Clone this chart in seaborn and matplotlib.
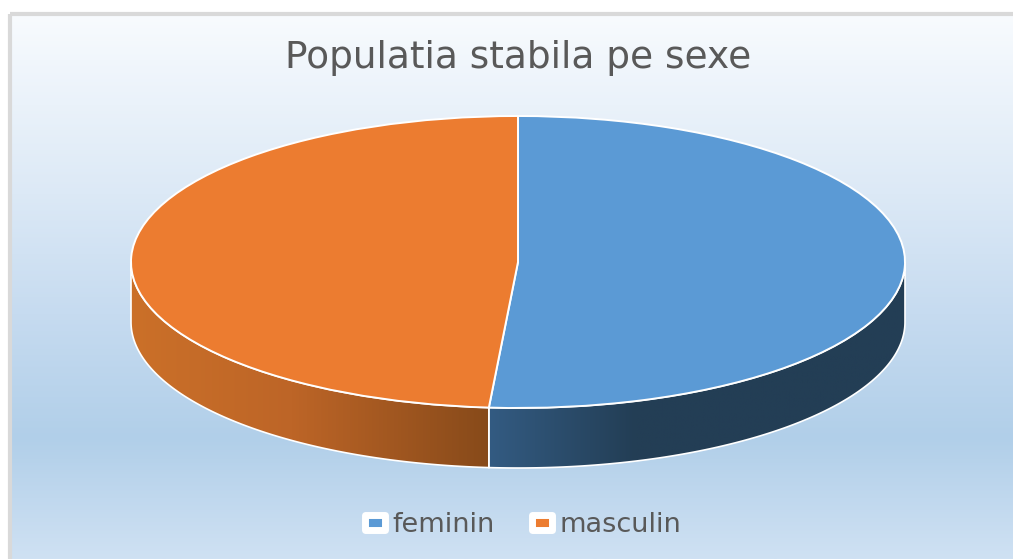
import matplotlib
matplotlib.use("Agg")
import matplotlib.pyplot as plt
import numpy as np
import seaborn as sns
from matplotlib.colors import LinearSegmentedColormap
from matplotlib.patches import Polygon, Rectangle

labels = ["feminin", "masculin"]
values = [51.2, 48.8]
title = "Populatia stabila pe sexe"

W, H = 1013, 559
CX, CY, RX, RY = 518, 262, 387, 146
DEPTH = 60 / RY

sns.set_theme(style="white")
plt.rcParams["font.family"] = ["DejaVu Sans"]
colors = sns.color_palette(["#5b9ad5", "#ec7c30"])

fig = plt.figure(figsize=(W / 100, H / 100), dpi=100, facecolor="white")

# panel background
bg = fig.add_axes([0, 0, 1, 1])
bg.set_xlim(0, W)
bg.set_ylim(H, 0)
bg.axis("off")
bg_cmap = LinearSegmentedColormap.from_list(
    "bg", [(0, "#f8fbfe"), (0.33, "#dce9f6"), (0.55, "#c6dbf0"), (0.78, "#b1cfe9"), (1, "#cfe1f3")])
bg_im = bg.imshow(np.linspace(0, 1, 256).reshape(-1, 1), cmap=bg_cmap, aspect="auto", extent=(10, W, H, 14))
bg.add_patch(Rectangle((10, 14), W + 5, H, fill=False, edgecolor="#d9d9d9", linewidth=3))

# pie axes, stretched so the circle reads as the tilted disc
ylim_low, ylim_high = -1.6, 1.25
ax = fig.add_axes([(CX - 1.25 * RX) / W, 1 - (CY + 1.6 * RY) / H, 2.5 * RX / W, 2.85 * RY / H])
ax.patch.set_alpha(0)
wedges, _ = ax.pie(values, colors=colors, startangle=90, counterclock=False,
                   wedgeprops={"edgecolor": "white", "linewidth": 1.4})
ax.set_aspect("auto")


def add_wall(t0, t1, cmap, x0, x1):
    t = np.radians(np.linspace(t0, t1, 200))
    xs, ys = np.cos(t), np.sin(t)
    pts = np.r_[np.c_[xs, ys], np.c_[xs[::-1], ys[::-1] - DEPTH]]
    poly = Polygon(pts, closed=True, facecolor="none", edgecolor="white", linewidth=1.2, zorder=0.6)
    ax.add_patch(poly)
    im = ax.imshow(np.linspace(0, 1, 256).reshape(1, -1), cmap=cmap, aspect="auto",
                   extent=(x0, x1, -1.5, 0.2), zorder=0.5)
    im.set_clip_path(poly)


# angle of the split between the two slices, from the values
split = 90 - 360 * values[0] / sum(values)
split_x = np.cos(np.radians(split))
blue_wall = LinearSegmentedColormap.from_list("b", [(0, "#335b82"), (0.35, "#233e55"), (1, "#233e55")])
orange_wall = LinearSegmentedColormap.from_list("o", [(0, "#cb7029"), (0.45, "#bd6527"), (1, "#874a1a")])
add_wall(0, split, blue_wall, split_x, 1.0)
add_wall(split, -180, orange_wall, -1.0, split_x)
ax.set_xlim(-1.25, 1.25)
ax.set_ylim(ylim_low, ylim_high)

fig.text(CX / W, 1 - 68 / H, title, ha="center", va="baseline", fontsize=27, color="#595959")
leg = fig.legend(wedges, labels, loc="center", bbox_to_anchor=(523 / W, 1 - 525 / H), ncol=2, frameon=False,
                 fontsize=19.5, labelcolor="#595959", handlelength=0.74, handleheight=0.52,
                 handletextpad=0.3, columnspacing=1.35)
for handle in leg.legend_handles:
    handle.set_linewidth(5)
    handle.set_joinstyle("round")

fig.savefig("out.png", dpi=100)
